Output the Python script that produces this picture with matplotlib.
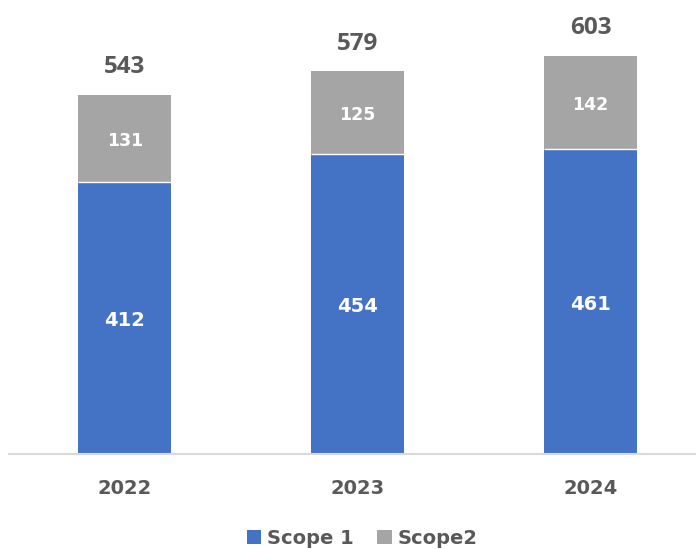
import matplotlib
matplotlib.use("Agg")
import matplotlib.pyplot as plt
import numpy as np

years = ["2022", "2023", "2024"]
scope1 = [412, 454, 461]
scope2 = [131, 125, 142]
totals = [543, 579, 603]

blue = "#4472C4"
gray = "#A5A5A5"
txt = "#595959"

fig = plt.figure(figsize=(6.96, 5.49), dpi=100)
ax = fig.add_axes([9/696, 95/549, 687/696, 454/549])
x = np.arange(len(years))
w = 0.40
b1 = ax.bar(x, scope1, w, color=blue, label="Scope 1")
b2 = ax.bar(x, scope2, w, bottom=scope1, color=gray, label="Scope2")
ax.hlines(scope1, x - w/2, x + w/2, colors="white", linewidth=1.0)

for xi, s1, s2, t in zip(x, scope1, scope2, totals):
    ax.annotate(str(s1), (xi, s1/2), xytext=(0, -2), textcoords="offset points",
                ha="center", va="center", color="white",
                fontsize=14, fontweight="bold", family="DejaVu Sans")
    ax.annotate(str(s2), (xi, s1 + s2/2), xytext=(0, -2), textcoords="offset points",
                ha="center", va="center", color="white",
                fontsize=12.5, fontweight="bold", family="DejaVu Sans")
    ax.annotate(str(t), (xi, s1 + s2), xytext=(0, 20), textcoords="offset points",
                ha="center", va="center", color=txt, fontsize=17.5,
                fontweight="bold", family="Open Sans")

ax.set_xlim(-0.498, 2.453)
ax.set_ylim(0, 687)
ax.set_xticks(x)
ax.set_xticklabels(years, fontsize=14, fontweight="bold", color=txt, family="DejaVu Sans")
ax.tick_params(axis="x", length=0, pad=18)
ax.set_yticks([])
for s in ["top", "right", "left"]:
    ax.spines[s].set_visible(False)
ax.spines["bottom"].set_color("#D9D9D9")
ax.spines["bottom"].set_linewidth(1.5)

leg = fig.legend(handles=[b1, b2], loc="center", bbox_to_anchor=(362/696, 1 - 538/549),
                 ncol=2, frameon=False, handlelength=0.75, handleheight=0.75,
                 handletextpad=0.3, columnspacing=1.2,
                 prop={"family": "DejaVu Sans", "weight": "bold", "size": 14})
for t in leg.get_texts():
    t.set_color(txt)

fig.savefig("out.png", dpi=100)
